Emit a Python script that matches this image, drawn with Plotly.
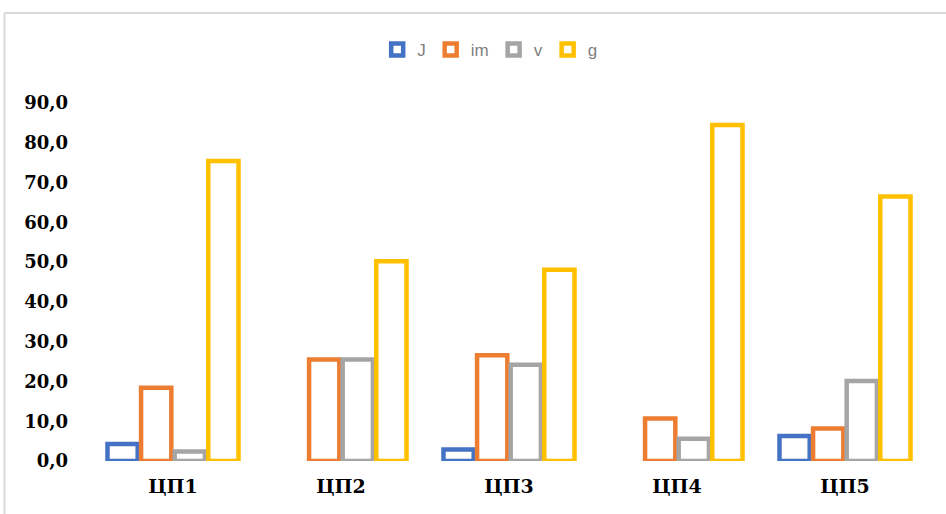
import plotly.graph_objects as go

categories = ["ЦП1", "ЦП2", "ЦП3", "ЦП4", "ЦП5"]
series_names = ["J", "im", "v", "g"]
J_vals = [4.3, None, 2.9, None, 6.3]
im_vals = [18.4, 25.5, 26.6, 10.7, 8.2]
v_vals = [2.4, 25.5, 24.2, 5.6, 20.1]
g_vals = [75.4, 50.2, 48.1, 84.5, 66.5]
y_ticks = [0, 10, 20, 30, 40, 50, 60, 70, 80, 90]
y_tick_labels = ["0,0", "10,0", "20,0", "30,0", "40,0", "50,0", "60,0", "70,0", "80,0", "90,0"]

colors = ["#4472C4", "#ED7D31", "#A5A5A5", "#FFC000"]
values = [J_vals, im_vals, v_vals, g_vals]

fig = go.Figure()
for name, vals, col in zip(series_names, values, colors):
    fig.add_trace(go.Bar(
        x=categories, y=vals, name=name,
        marker=dict(color="white", line=dict(color=col, width=4.5)),
    ))

fig.update_layout(
    width=946, height=514,
    margin=dict(l=89, r=17, t=103, b=53),
    paper_bgcolor="white", plot_bgcolor="white",
    barmode="group", bargap=0.2, bargroupgap=0.1,
    showlegend=True,
    legend=dict(orientation="h", x=0.477, y=1.148, xanchor="center", yanchor="middle",
                font=dict(family="Liberation Sans", size=17, color="#7F7F7F"),
                itemwidth=30, traceorder="normal"),
    xaxis=dict(showgrid=False, showline=False, zeroline=False,
               tickfont=dict(family="DejaVu Serif", size=19, color="black", weight="bold"),
               ticklabelstandoff=12),
    yaxis=dict(range=[0, 90], tickvals=y_ticks, ticktext=y_tick_labels,
               showgrid=False, showline=False, zeroline=False,
               tickfont=dict(family="DejaVu Serif", size=18, color="black", weight="bold"),
               ticklabelstandoff=20),
    shapes=[
        dict(type="line", xref="paper", yref="paper", x0=-0.1006, x1=1.03, y0=1.2514, y1=1.2514,
             line=dict(color="#D9D9D9", width=2)),
        dict(type="line", xref="paper", yref="paper", x0=-0.1006, x1=-0.1006, y0=1.2514, y1=-0.16,
             line=dict(color="#D9D9D9", width=2)),
    ],
)

fig.write_html("out.html")
